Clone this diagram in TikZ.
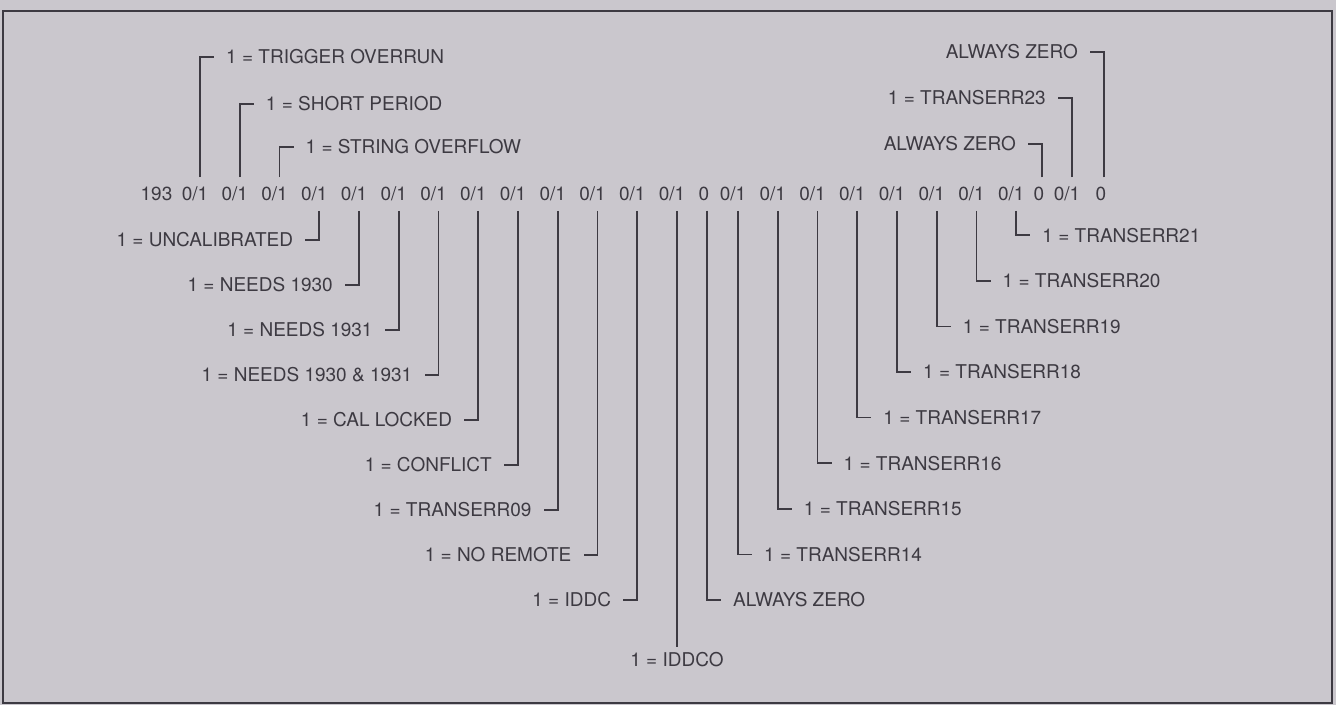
\documentclass[tikz,border=0pt]{standalone}
\usepackage{fontspec}
\setmainfont{TeX Gyre Heros}
\usepackage{xcolor}
\definecolor{sheet-grey}{HTML}{CAC7CD}
\definecolor{print-ink}{HTML}{3D3A42}

\begin{document}
\begin{tikzpicture}[x=1pt, y=-1pt,
      every node/.style={font=\fontsize{19}{23}\selectfont, text=print-ink},
      bit/.style={inner xsep=0pt, inner ysep=9.5pt},
      flag/.style={inner sep=0pt},
      lead/.style={draw=print-ink, line width=1.6pt}]
    \useasboundingbox (0,0) rectangle (1336,705);
    \fill[sheet-grey] (0,0) rectangle (1336,705);
    \draw[print-ink, line width=1.6pt] (3,11) rectangle (1332,703);
    % the status word
    \node[bit] (hdr) at (156.5,194) {193};
    \node[bit] (b0)  at (195,194)    {0/1};
    \node[bit] (b1)  at (234.75,194) {0/1};
    \node[bit] (b2)  at (274.5,194)  {0/1};
    \node[bit] (b3)  at (314.25,194) {0/1};
    \node[bit] (b4)  at (354,194)    {0/1};
    \node[bit] (b5)  at (393.75,194) {0/1};
    \node[bit] (b6)  at (433.5,194)  {0/1};
    \node[bit] (b7)  at (473.25,194) {0/1};
    \node[bit] (b8)  at (513,194)    {0/1};
    \node[bit] (b9)  at (552.75,194) {0/1};
    \node[bit] (b10) at (592.5,194)  {0/1};
    \node[bit] (b11) at (632.25,194) {0/1};
    \node[bit] (b12) at (672,194)    {0/1};
    \node[bit] (b13) at (704,194)    {0};
    \node[bit] (b14) at (733,194)    {0/1};
    \node[bit] (b15) at (772.75,194) {0/1};
    \node[bit] (b16) at (812.5,194)  {0/1};
    \node[bit] (b17) at (852.25,194) {0/1};
    \node[bit] (b18) at (892,194)    {0/1};
    \node[bit] (b19) at (931.75,194) {0/1};
    \node[bit] (b20) at (971.5,194)  {0/1};
    \node[bit] (b21) at (1011.25,194) {0/1};
    \node[bit] (b22) at (1039,194)   {0};
    \node[bit] (b23) at (1067,194)   {0/1};
    \node[bit] (b24) at (1101,194)   {0};
    % flags above the word
    \node[flag, anchor=west] (l0) at (226,57)     {1 = TRIGGER OVERRUN};
    \node[flag, anchor=west] (l1) at (265.75,104) {1 = SHORT PERIOD};
    \node[flag, anchor=west] (l2) at (305.5,147)  {1 = STRING OVERFLOW};
    \node[flag, anchor=east] (l22) at (1016,144)  {ALWAYS ZERO};
    \node[flag, anchor=east] (l23) at (1046,98)   {1 = TRANSERR23};
    \node[flag, anchor=east] (l24) at (1078,52)   {ALWAYS ZERO};
    % flags below the word, left half
    \node[flag, anchor=east] (l3)  at (293.25,240) {1 = UNCALIBRATED};
    \node[flag, anchor=east] (l4)  at (333,285)    {1 = NEEDS 1930};
    \node[flag, anchor=east] (l5)  at (372.75,330) {1 = NEEDS 1931};
    \node[flag, anchor=east] (l6)  at (412.5,375)  {1 = NEEDS 1930 \& 1931};
    \node[flag, anchor=east] (l7)  at (452.25,420) {1 = CAL LOCKED};
    \node[flag, anchor=east] (l8)  at (492,465)    {1 = CONFLICT};
    \node[flag, anchor=east] (l9)  at (531.75,510) {1 = TRANSERR09};
    \node[flag, anchor=east] (l10) at (571.5,555)  {1 = NO REMOTE};
    \node[flag, anchor=east] (l11) at (611.25,600) {1 = IDDC};
    \node[flag, anchor=north] (l12) at (677,652)   {1 = IDDCO};
    % flags below the word, right half
    \node[flag, anchor=west] (l13) at (733,600)     {ALWAYS ZERO};
    \node[flag, anchor=west] (l14) at (764,554.4)   {1 = TRANSERR14};
    \node[flag, anchor=west] (l15) at (803.75,508.8) {1 = TRANSERR15};
    \node[flag, anchor=west] (l16) at (843.5,463.2) {1 = TRANSERR16};
    \node[flag, anchor=west] (l17) at (883.25,417.6) {1 = TRANSERR17};
    \node[flag, anchor=west] (l18) at (923,372)     {1 = TRANSERR18};
    \node[flag, anchor=west] (l19) at (962.75,326.4) {1 = TRANSERR19};
    \node[flag, anchor=west] (l20) at (1002.5,280.8) {1 = TRANSERR20};
    \node[flag, anchor=west] (l21) at (1042.25,235.2) {1 = TRANSERR21};
    % leaders: each one drops from the "1" of its bit
    \draw[lead] ([xshift=5pt]b0.north) |- ([xshift=-12pt]l0.west);
    \draw[lead] ([xshift=5pt]b1.north) |- ([xshift=-12pt]l1.west);
    \draw[lead] ([xshift=5pt]b2.north) |- ([xshift=-12pt]l2.west);
    \draw[lead] ([xshift=3pt]b22.north) |- ([xshift=12pt]l22.east);
    \draw[lead] ([xshift=5pt]b23.north) |- ([xshift=12pt]l23.east);
    \draw[lead] ([xshift=3pt]b24.north) |- ([xshift=12pt]l24.east);
    \draw[lead] ([xshift=5pt]b3.south)  |- ([xshift=12pt]l3.east);
    \draw[lead] ([xshift=5pt]b4.south)  |- ([xshift=12pt]l4.east);
    \draw[lead] ([xshift=5pt]b5.south)  |- ([xshift=12pt]l5.east);
    \draw[lead] ([xshift=5pt]b6.south)  |- ([xshift=12pt]l6.east);
    \draw[lead] ([xshift=5pt]b7.south)  |- ([xshift=12pt]l7.east);
    \draw[lead] ([xshift=5pt]b8.south)  |- ([xshift=12pt]l8.east);
    \draw[lead] ([xshift=5pt]b9.south)  |- ([xshift=12pt]l9.east);
    \draw[lead] ([xshift=5pt]b10.south) |- ([xshift=12pt]l10.east);
    \draw[lead] ([xshift=5pt]b11.south) |- ([xshift=12pt]l11.east);
    \draw[lead] ([xshift=5pt]b12.south) -- ([yshift=5pt]l12.north);
    \draw[lead] ([xshift=3pt]b13.south) |- ([xshift=-12pt]l13.west);
    \draw[lead] ([xshift=5pt]b14.south) |- ([xshift=-12pt]l14.west);
    \draw[lead] ([xshift=5pt]b15.south) |- ([xshift=-12pt]l15.west);
    \draw[lead] ([xshift=5pt]b16.south) |- ([xshift=-12pt]l16.west);
    \draw[lead] ([xshift=5pt]b17.south) |- ([xshift=-12pt]l17.west);
    \draw[lead] ([xshift=5pt]b18.south) |- ([xshift=-12pt]l18.west);
    \draw[lead] ([xshift=5pt]b19.south) |- ([xshift=-12pt]l19.west);
    \draw[lead] ([xshift=5pt]b20.south) |- ([xshift=-12pt]l20.west);
    \draw[lead] ([xshift=5pt]b21.south) |- ([xshift=-12pt]l21.west);
  \end{tikzpicture}
\end{document}
